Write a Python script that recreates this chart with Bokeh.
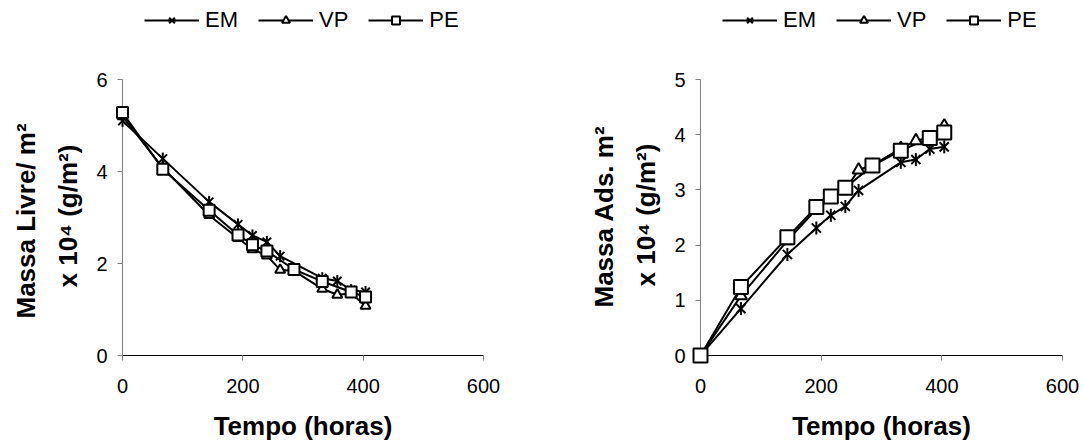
import math
from bokeh.plotting import figure
from bokeh.models import Range1d, FixedTicker, Legend, LegendItem, Title
from bokeh.layouts import row
from bokeh.embed import file_html
from bokeh.resources import INLINE

# ---- data ----
time_em = [0, 67, 144, 192, 216, 240, 262, 332, 357, 380, 404]
time_vp = [0, 67, 144, 192, 216, 240, 262, 285, 332, 357, 380, 404]
time_pe = [0, 67, 144, 192, 216, 240, 285, 332, 380, 404]

livre_em = [5.10, 4.28, 3.34, 2.85, 2.61, 2.47, 2.16, 1.68, 1.62, 1.42, 1.38]
livre_vp = [5.20, 4.08, 3.05, 2.55, 2.31, 2.17, 1.86, 1.84, 1.45, 1.32, 1.35, 1.08]
livre_pe = [5.28, 4.05, 3.16, 2.62, 2.41, 2.27, 1.87, 1.61, 1.38, 1.27]

ads_em = [0.0, 0.85, 1.83, 2.31, 2.54, 2.70, 2.99, 3.50, 3.55, 3.74, 3.78]
ads_vp = [0.0, 1.08, 2.08, 2.65, 2.85, 3.00, 3.36, 3.45, 3.75, 3.89, 3.95, 4.16]
ads_pe = [0.0, 1.24, 2.14, 2.69, 2.88, 3.04, 3.44, 3.71, 3.94, 4.04]

series_names = ["EM", "VP", "PE"]
x_ticks = [0, 200, 400, 600]
left_y_ticks = [0, 2, 4, 6]
right_y_ticks = [0, 1, 2, 3, 4, 5]
left_y_title = ["Massa Livre/ m²", "x 10⁴ (g/m²)"]
right_y_title = ["Massa Ads. m²", "x 10⁴ (g/m²)"]

FONT = "Liberation Sans"

FRAME_H = 355      # frame from canvas top down to the x axis
AXIS_H = 276       # pixel height of the 0..ymax part of the axis


def make_fig(width, bl, br, ymax, yticks, ylabel, em, vp, pe, sq, tri, ast,
             leg_x, off1, off2):
    y_end = ymax * FRAME_H / AXIS_H   # room for the legend inside the frame
    p = figure(width=width, height=444,
               min_border_left=bl, min_border_right=br,
               min_border_top=0, min_border_bottom=89,
               x_range=Range1d(0, 600), y_range=Range1d(0, y_end),
               output_backend="svg", toolbar_location=None,
               background_fill_color="white", border_fill_color="white")
    p.outline_line_color = None
    p.grid.visible = False

    l_em = p.line(time_em, em, line_color="black", line_width=2)
    s_em1 = p.scatter(time_em, em, marker="x", size=ast, line_color="black",
                      line_width=2, level="overlay")
    s_em2 = p.scatter(time_em, em, marker="dash", angle=math.pi / 2, size=ast,
                      line_color="black", line_width=2, level="overlay")
    l_vp = p.line(time_vp, vp, line_color="black", line_width=2)
    s_vp = p.scatter(time_vp, vp, marker="triangle", size=tri, line_color="black",
                     fill_color="white", line_width=2, level="overlay")
    l_pe = p.line(time_pe, pe, line_color="black", line_width=2)
    s_pe = p.scatter(time_pe, pe, marker="square", size=sq, line_color="black",
                     fill_color="white", line_width=2, level="overlay")

    for ax in (p.xaxis[0], p.yaxis[0]):
        ax.major_tick_in = 0
        ax.major_tick_out = 5
        ax.minor_tick_line_color = None
        ax.major_tick_line_color = "#808080"
        ax.major_label_text_font = FONT
        ax.major_label_text_font_size = "20px"
        ax.major_label_text_color = "black"
        ax.major_label_standoff = 10
        ax.axis_label_text_font = FONT
        ax.axis_label_text_font_size = "26px"
        ax.axis_label_text_font_style = "bold"
        ax.axis_label_text_color = "black"
    p.xaxis[0].ticker = FixedTicker(ticks=x_ticks)
    p.yaxis[0].ticker = FixedTicker(ticks=yticks)
    p.yaxis[0].bounds = (0, ymax)
    p.xaxis[0].axis_line_color = "black"
    p.yaxis[0].axis_line_color = "#808080"
    p.xaxis[0].axis_label = "Tempo (horas)"
    p.xaxis[0].major_label_standoff = 18
    p.xaxis[0].axis_label_standoff = 15

    # two-line y title, centred on the 0..ymax part of the axis
    t2 = Title(text=ylabel[1], align="left", offset=off2, standoff=21,
               text_font=FONT, text_font_size="26px", text_font_style="bold",
               text_color="black")
    t1 = Title(text=ylabel[0], align="left", offset=off1, standoff=0,
               text_font=FONT, text_font_size="26px", text_font_style="bold",
               text_color="black")
    p.add_layout(t2, "left")
    p.add_layout(t1, "left")

    legend = Legend(items=[
        LegendItem(label=series_names[0], renderers=[l_em, s_em1, s_em2]),
        LegendItem(label=series_names[1], renderers=[l_vp, s_vp]),
        LegendItem(label=series_names[2], renderers=[l_pe, s_pe]),
    ], orientation="horizontal", location=(leg_x, 322),
        border_line_color=None, background_fill_alpha=0,
        glyph_width=55, glyph_height=20, label_standoff=6, spacing=20,
        padding=0, margin=0, label_text_font=FONT, label_text_font_size="22px",
        label_text_color="black")
    p.add_layout(legend, "center")
    return p


left = make_fig(540, 122, 57, 6, left_y_ticks, left_y_title,
                livre_em, livre_vp, livre_pe, 11, 10, 12, 22, 37, 68)
right = make_fig(543, 160, 21, 5, right_y_ticks, right_y_title,
                 ads_em, ads_vp, ads_pe, 14, 12, 13, 22, 48, 69)

layout = row(left, right)
open("out.html", "w").write(file_html(layout, INLINE))
